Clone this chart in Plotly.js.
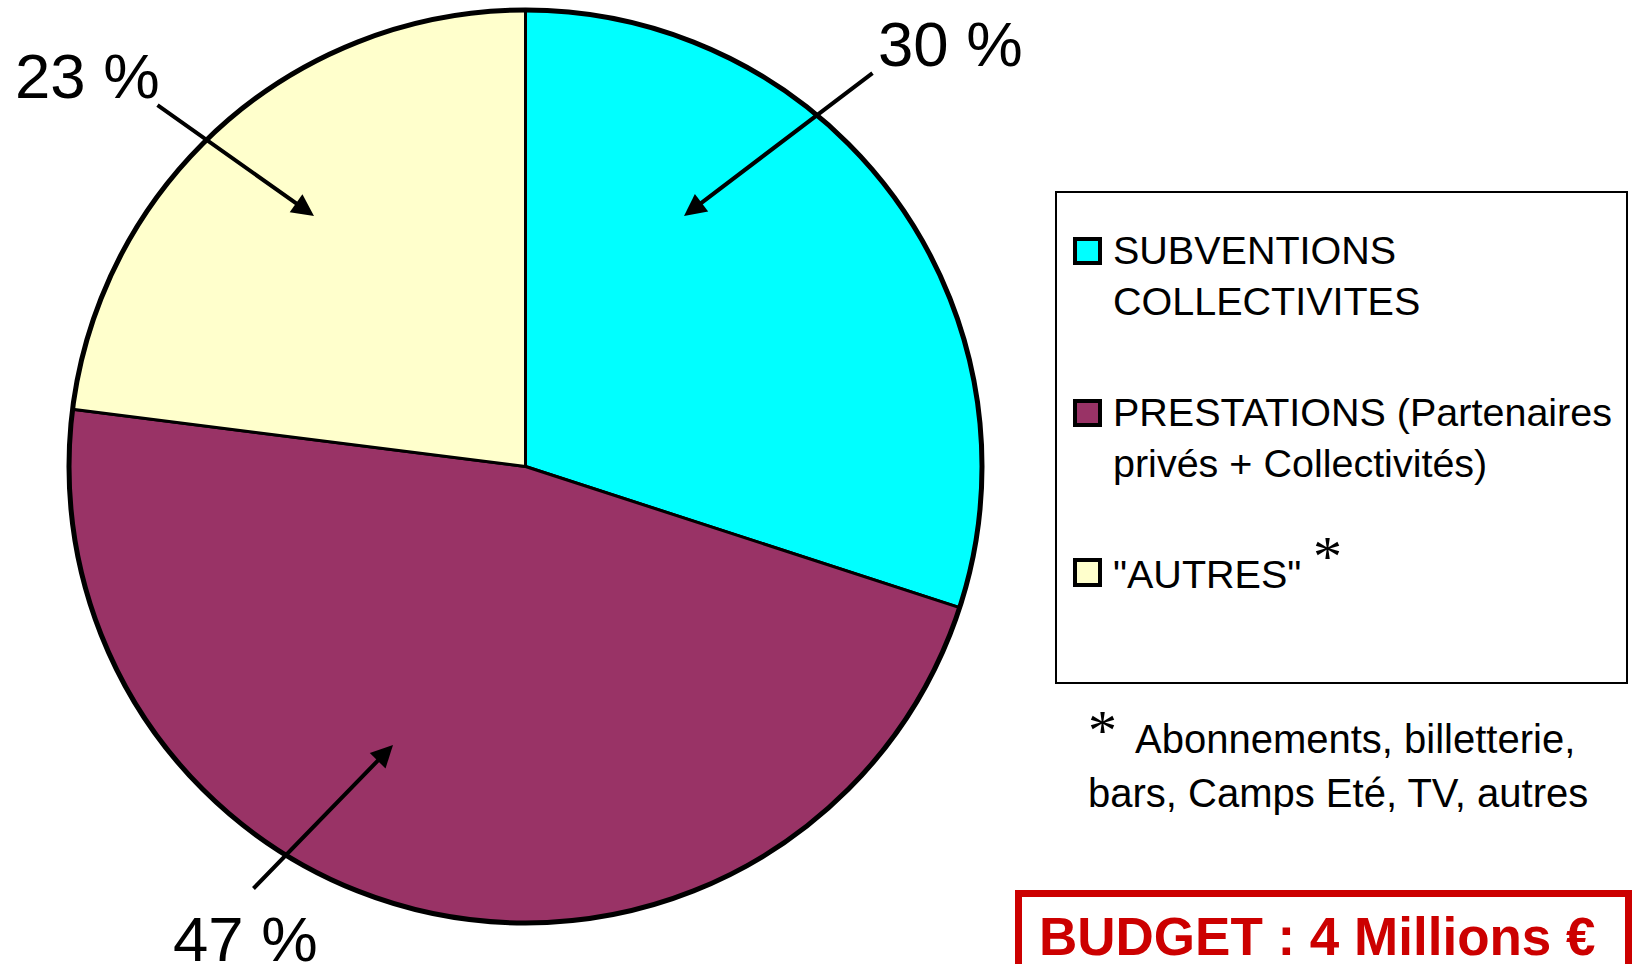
<!DOCTYPE html>
<html>
<head>
<meta charset="utf-8">
<script src="https://cdn.plot.ly/plotly-3.0.1.min.js"></script>
<style>
  html, body { margin: 0; padding: 0; background: #ffffff; }
  #chart { width: 1634px; height: 964px; }
</style>
</head>
<body>
<div id="chart"></div>
<script>
// ---- Data ----
const labels = ['SUBVENTIONS<br>COLLECTIVITES', 'PRESTATIONS (Partenaires<br>privés + Collectivités)', '"AUTRES"'];
const values = [30, 47, 23];
const sliceColors = ['#00FFFF', '#993366', '#FFFFCC'];
const footnoteLines = ['Abonnements, billetterie,', 'bars, Camps Eté, TV, autres'];
const budgetText = 'BUDGET : 4 Millions €';

// ---- Geometry helpers (pixel -> paper) ----
const W = 1634, H = 964;
const px = x => x / W;
const py = y => 1 - y / H;

const FONT = 'Liberation Sans, Arial, Helvetica, sans-serif';
const SERIF = 'Liberation Serif, Times New Roman, serif';

const pieBox = { x0: 69, x1: 982, y0: 10, y1: 923 };

const pie = {
  type: 'pie',
  labels: labels,
  values: values,
  sort: false,
  direction: 'clockwise',
  rotation: 0,
  textinfo: 'none',
  hoverinfo: 'label+percent',
  showlegend: false,
  marker: { colors: sliceColors, line: { color: '#000000', width: 3 } },
  domain: { x: [px(pieBox.x0), px(pieBox.x1)], y: [py(pieBox.y1), py(pieBox.y0)] }
};

// Percentage labels with arrows
const pctLabels = values.map(v => v + ' %');
const pctText = [
  { i: 0, x: 876, yc: 44 },
  { i: 1, x: 171, yc: 939 },
  { i: 2, x: 13, yc: 76 }
];
const arrows = [
  { tip: [684, 216], tail: [874, 72] },
  { tip: [393, 745], tail: [252, 890] },
  { tip: [314, 216], tail: [156, 104] }
];

const annotations = [];
const shapes = [];

// thicker outer outline of the pie
shapes.push({
  type: 'circle', xref: 'paper', yref: 'paper',
  x0: px(pieBox.x0), x1: px(pieBox.x1), y0: py(pieBox.y1), y1: py(pieBox.y0),
  line: { color: '#000000', width: 5 }, fillcolor: 'rgba(0,0,0,0)'
});

pctText.forEach(p => {
  annotations.push({
    xref: 'paper', yref: 'paper', x: px(p.x), y: py(p.yc),
    xanchor: 'left', yanchor: 'middle', showarrow: false,
    text: pctLabels[p.i], font: { family: FONT, size: 63.5, color: '#000000' }
  });
});
arrows.forEach(a => {
  annotations.push({
    xref: 'paper', yref: 'paper', x: px(a.tip[0]), y: py(a.tip[1]),
    axref: 'pixel', ayref: 'pixel',
    ax: a.tail[0] - a.tip[0], ay: a.tail[1] - a.tip[1],
    text: '', showarrow: true, arrowhead: 2, arrowsize: 1.1, arrowwidth: 4,
    arrowcolor: '#000000', standoff: 0, startstandoff: 0
  });
});

// Legend (manual)
const legendItems = [
  { yc: 275, sw: [239, 263] },
  { yc: 438, sw: [401, 425] },
  { yc: 574, sw: [560, 585] }
];
shapes.push({
  type: 'rect', xref: 'paper', yref: 'paper',
  x0: px(1056), x1: px(1627), y0: py(192), y1: py(683),
  line: { color: '#000000', width: 2 }, fillcolor: 'rgba(0,0,0,0)'
});
legendItems.forEach((it, i) => {
  shapes.push({
    type: 'rect', xref: 'paper', yref: 'paper',
    x0: px(1075), x1: px(1100), y0: py(it.sw[1]), y1: py(it.sw[0]),
    line: { color: '#000000', width: 4 }, fillcolor: sliceColors[i]
  });
  annotations.push({
    xref: 'paper', yref: 'paper', x: px(1111), y: py(it.yc),
    xanchor: 'left', yanchor: 'middle', align: 'left', showarrow: false,
    text: labels[i], font: { family: FONT, size: 39.5, color: '#000000' }
  });
});
// asterisk after "AUTRES"
annotations.push({
  xref: 'paper', yref: 'paper', x: px(1327), y: py(556),
  xanchor: 'center', yanchor: 'middle', showarrow: false,
  text: '*', font: { family: SERIF, size: 58, color: '#000000' }
});

// Footnote
annotations.push({
  xref: 'paper', yref: 'paper', x: px(1102), y: py(730),
  xanchor: 'center', yanchor: 'middle', showarrow: false,
  text: '*', font: { family: SERIF, size: 58, color: '#000000' }
});
annotations.push({
  xref: 'paper', yref: 'paper', x: px(1133), y: py(739),
  xanchor: 'left', yanchor: 'middle', showarrow: false,
  text: footnoteLines[0], font: { family: FONT, size: 40, color: '#000000' }
});
annotations.push({
  xref: 'paper', yref: 'paper', x: px(1086), y: py(793),
  xanchor: 'left', yanchor: 'middle', showarrow: false,
  text: footnoteLines[1], font: { family: FONT, size: 40, color: '#000000' }
});

// Budget box
shapes.push({
  type: 'rect', xref: 'paper', yref: 'paper',
  x0: px(1018.5), x1: px(1628.5), y0: py(1010), y1: py(893.5),
  line: { color: '#CC0000', width: 7 }, fillcolor: 'rgba(0,0,0,0)'
});
annotations.push({
  xref: 'paper', yref: 'paper', x: px(1037), y: py(936),
  xanchor: 'left', yanchor: 'middle', showarrow: false,
  text: '<b>' + budgetText + '</b>', font: { family: FONT, size: 53, color: '#CC0000' }
});

const layout = {
  width: W, height: H,
  margin: { l: 0, r: 0, t: 0, b: 0, pad: 0 },
  paper_bgcolor: '#ffffff', plot_bgcolor: '#ffffff',
  showlegend: false,
  font: { family: FONT, color: '#000000' },
  shapes: shapes,
  annotations: annotations
};

Plotly.newPlot('chart', [pie], layout, { displayModeBar: false, staticPlot: true });
</script>
</body>
</html>
